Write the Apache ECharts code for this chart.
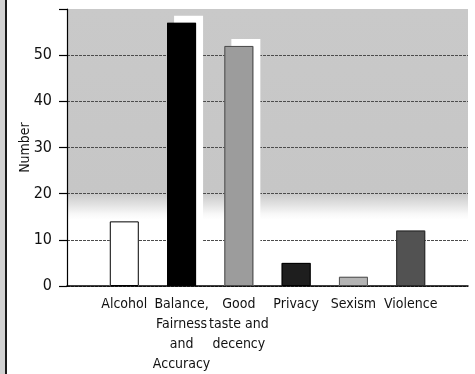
<!DOCTYPE html>
<html>
<head>
<meta charset="utf-8">
<script src="https://cdn.jsdelivr.net/npm/echarts@6/dist/echarts.min.js"></script>
<style>
  html, body { margin: 0; padding: 0; background: #fff; }
  #chart { width: 475px; height: 374px; }
</style>
</head>
<body>
<div id="chart"></div>
<script>
// Complaints by category
const categories = [
  'Alcohol',
  'Balance,\nFairness\nand\nAccuracy',
  'Good\ntaste and\ndecency',
  'Privacy',
  'Sexism',
  'Violence'
];
const counts = [14, 57, 52, 5, 2, 12];
const yTicks = [0, 10, 20, 30, 40, 50, 60];

// Fill, outline and white offset shadow for each bar, in category order
const barFills   = ['#ffffff', '#000000', '#9c9c9c', '#1e1e1e', '#b4b4b4', '#525252'];
const barBorders = ['#000000', '#000000', '#4a4a4a', '#000000', '#505050', '#2a2a2a'];
const barShadow  = [false, true, true, false, false, false];

const FONT = '"DejaVu Sans Condensed", "Liberation Sans Narrow", sans-serif';

const chart = echarts.init(document.getElementById('chart'), null, { renderer: 'canvas' });

const points = categories.map((c, i) => [i + 1, counts[i]]);

chart.setOption({
  animation: false,
  backgroundColor: '#ffffff',
  grid: {
    left: 67, right: 7, top: 9, bottom: 88,
    show: true,
    borderWidth: 0,
    backgroundColor: new echarts.graphic.LinearGradient(0, 0, 0, 1, [
      { offset: 0, color: '#c9c9c9' },
      { offset: 0.66, color: '#c6c6c6' },
      { offset: 0.70, color: '#dedede' },
      { offset: 0.74, color: '#f8f8f8' },
      { offset: 0.76, color: '#ffffff' },
      { offset: 1, color: '#ffffff' }
    ])
  },
  graphic: [
    { type: 'rect', left: 0, top: 0, shape: { width: 5, height: 374 }, style: { fill: '#d2d2d2' }, silent: true },
    { type: 'rect', left: 5, top: 0, shape: { width: 2, height: 374 }, style: { fill: '#1a1a1a' }, silent: true }
  ],
  xAxis: {
    type: 'value',
    min: 0,
    max: categories.length + 1,
    interval: 1,
    axisLine: { show: true, lineStyle: { color: '#000', width: 1.5 } },
    axisTick: { show: false },
    splitLine: { show: false },
    axisLabel: {
      margin: 8,
      fontFamily: FONT,
      fontSize: 14,
      lineHeight: 20,
      color: '#111',
      align: 'center',
      formatter: v => (v >= 1 && v <= categories.length) ? categories[v - 1] : ''
    }
  },
  yAxis: {
    type: 'value',
    min: yTicks[0],
    max: yTicks[yTicks.length - 1],
    interval: 10,
    name: 'Number',
    nameLocation: 'middle',
    nameGap: 35,
    nameMoveOverlap: false,
    nameRotate: 90,
    nameTextStyle: { fontFamily: FONT, fontSize: 14, color: '#111' },
    axisLine: { show: true, lineStyle: { color: '#000', width: 1.2 } },
    axisTick: { show: true, inside: false, length: 8, lineStyle: { color: '#000', width: 1.2 } },
    axisLabel: {
      margin: 15,
      fontFamily: FONT,
      fontSize: 16,
      color: '#111',
      formatter: v => (v === yTicks[yTicks.length - 1] ? '' : String(v))
    },
    splitLine: {
      show: true,
      showMaxLine: false,
      lineStyle: { color: '#4c4c4c', width: 1, type: [3, 1] }
    }
  },
  series: [
    {
      // filled bars; the tall ones cast a white shadow up and to the right
      type: 'bar',
      barWidth: 29,
      barGap: '-100%',
      data: points.map((p, i) => ({
        value: p,
        itemStyle: Object.assign(
          { color: barFills[i], borderWidth: 0 },
          barShadow[i]
            ? { shadowColor: '#ffffff', shadowBlur: 0, shadowOffsetX: 7, shadowOffsetY: -7 }
            : {}
        )
      }))
    },
    {
      // outlines drawn over the fills
      type: 'bar',
      barWidth: 29,
      barGap: '-100%',
      data: points.map((p, i) => ({
        value: p,
        itemStyle: {
          color: 'rgba(0,0,0,0)',
          borderColor: barBorders[i],
          borderWidth: 1
        }
      }))
    }
  ]
});
</script>
</body>
</html>
